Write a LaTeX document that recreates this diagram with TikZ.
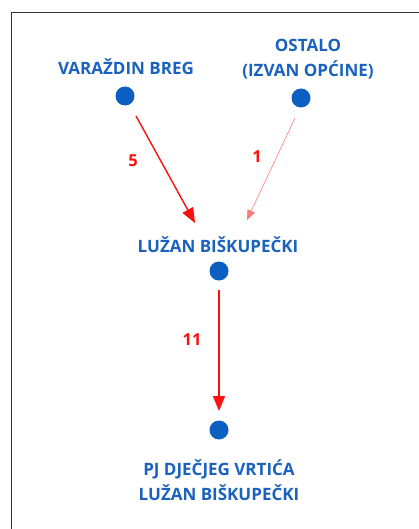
\documentclass[tikz,border=0pt]{standalone}
\usepackage{fontspec}
\setmainfont{Open Sans}
\usetikzlibrary{arrows.meta}
\definecolor{dotblue}{HTML}{0A5FC0}
\definecolor{txtblue}{HTML}{1A62BE}
\definecolor{arrred}{HTML}{FF1010}
\definecolor{lightred}{HTML}{FF7A7A}
\tikzset{
  x=1pt,y=-1pt,
  dot/.style={circle,fill=dotblue,minimum size=19pt,inner sep=0pt},
  lbl/.style={font=\bfseries\fontsize{17}{24.5}\selectfont,text=txtblue,align=center,inner sep=0pt},
  num/.style={font=\bfseries\fontsize{16.5}{18}\selectfont,text=arrred,inner sep=0pt},
  flow/.style={draw=arrred,line width=1.4pt,-{Triangle[length=15pt,width=12pt]}},
  thinflow/.style={draw=lightred,line width=0.6pt,-{Triangle[length=10pt,width=8pt]}}
}
\begin{document}
\begin{tikzpicture}
\useasboundingbox (0,0) rectangle (419,529);
\fill[white] (0,0) rectangle (419,529);
\draw[line width=1.6pt,color=black!80] (11.5,529) -- (11.5,12.5) -- (419,12.5);
% nodes
\node[dot] (vb) at (125,96) {};
\node[dot] (os) at (301,98) {};
\node[dot] (lb) at (219,271) {};
\node[dot] (pj) at (219,430) {};
\node[lbl] (tvb) at (126,67) {VARAŽDIN BREG};
\node[lbl] (tos) at (308,59) {OSTALO\\(IZVAN OPĆINE)};
\node[lbl] (tlb) at (218,245) {LUŽAN BIŠKUPEČKI};
\node[lbl] (tpj) at (219,480) {PJ DJEČJEG VRTIĆA\\LUŽAN BIŠKUPEČKI};
% arrow endpoints
\coordinate (a1s) at (136,116);
\coordinate (a1e) at (195,223);
\coordinate (a2s) at (295,118);
\coordinate (a2e) at (247,220);
\coordinate (a3s) at (219,290);
\coordinate (a3e) at (219,411);
\draw[flow] (a1s) -- (a1e);
\draw[thinflow] (a2s) -- (a2e);
\draw[flow] (a3s) -- (a3e);
\node[num] (n5) at (133,161) {5};
\node[num] (n1) at (257,157) {1};
\node[num] (n11) at (192,340) {11};
\end{tikzpicture}
\end{document}
